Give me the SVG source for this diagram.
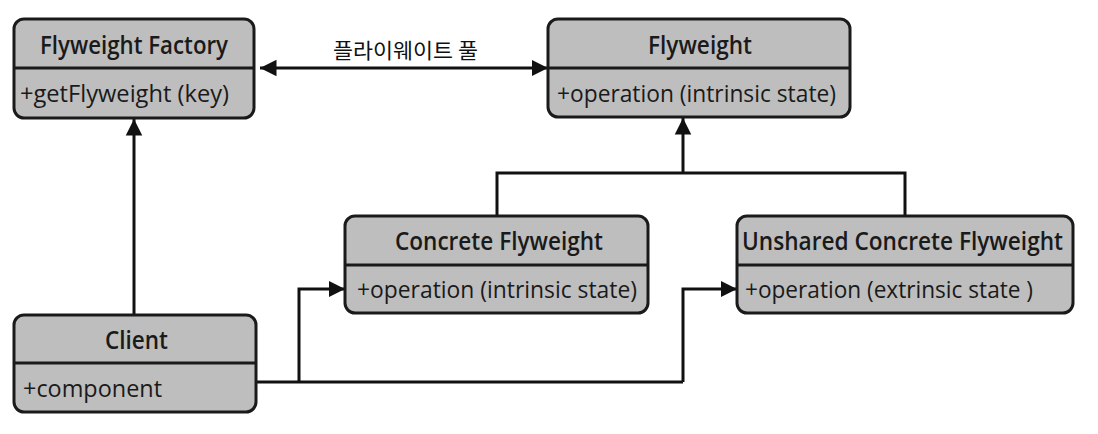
<svg xmlns="http://www.w3.org/2000/svg" width="1098" height="434" viewBox="0 0 1098 434">
<style>
.box{fill:#bebebe;stroke:#1a1a1a;stroke-width:3}
.div{stroke:#1a1a1a;stroke-width:3}
.t{font-family:"Open Sans","DejaVu Sans",sans-serif;font-size:25px;font-weight:600;fill:#1a1a1a}
.m{font-family:"Open Sans","DejaVu Sans",sans-serif;font-size:24px;fill:#1a1a1a}
.c{fill:none;stroke:#111;stroke-width:3}
.k{font-family:"Noto Sans CJK KR",sans-serif;font-size:21px;fill:#111}
</style>
<defs>
<marker id="ah" viewBox="0 0 10 10" refX="10" refY="5" markerWidth="5.5" markerHeight="6" orient="auto-start-reverse" markerUnits="strokeWidth">
<path d="M0,0 L10,5 L0,10 z" fill="#111"/>
</marker>
</defs>
<rect width="1098" height="434" fill="#fff"/>
<g id="connectors">
<line class="c" x1="260" y1="68" x2="548" y2="68" marker-start="url(#ah)" marker-end="url(#ah)"/>
<text class="k" x="333" y="58" textLength="145" lengthAdjust="spacingAndGlyphs">플라이웨이트 풀</text>
<line class="c" x1="134" y1="315" x2="134" y2="119" marker-end="url(#ah)"/>
<polyline class="c" points="497,217 497,173 905,173 905,217"/>
<line class="c" x1="683" y1="173" x2="683" y2="118" marker-end="url(#ah)"/>
<polyline class="c" points="256,382 683,382"/>
<polyline class="c" points="299,382 299,289 345,289" marker-end="url(#ah)"/>
<polyline class="c" points="683,382 683,289 737,289" marker-end="url(#ah)"/>
</g>
<g id="factory">
<rect class="box" x="14" y="19" width="240" height="99" rx="10"/>
<line class="div" x1="14" y1="68" x2="254" y2="68"/>
<text class="t" x="40" y="54" textLength="188" lengthAdjust="spacingAndGlyphs">Flyweight Factory</text>
<text class="m" x="20" y="102" textLength="209" lengthAdjust="spacingAndGlyphs">+getFlyweight (key)</text>
</g>
<g id="flyweight">
<rect class="box" x="548" y="19" width="302" height="98" rx="10"/>
<line class="div" x1="548" y1="68" x2="850" y2="68"/>
<text class="t" x="648" y="54" textLength="104" lengthAdjust="spacingAndGlyphs">Flyweight</text>
<text class="m" x="557" y="102" textLength="279" lengthAdjust="spacingAndGlyphs">+operation (intrinsic state)</text>
</g>
<g id="concrete">
<rect class="box" x="345" y="216" width="303" height="97" rx="10"/>
<line class="div" x1="345" y1="265" x2="648" y2="265"/>
<text class="t" x="395" y="250" textLength="208" lengthAdjust="spacingAndGlyphs">Concrete Flyweight</text>
<text class="m" x="357" y="298" textLength="280" lengthAdjust="spacingAndGlyphs">+operation (intrinsic state)</text>
</g>
<g id="unshared">
<rect class="box" x="737" y="216" width="336" height="97" rx="10"/>
<line class="div" x1="737" y1="265" x2="1073" y2="265"/>
<text class="t" x="742" y="250" textLength="321" lengthAdjust="spacingAndGlyphs">Unshared Concrete Flyweight</text>
<text class="m" x="745" y="298" textLength="288" lengthAdjust="spacingAndGlyphs">+operation (extrinsic state )</text>
</g>
<g id="client">
<rect class="box" x="14" y="315" width="242" height="97" rx="10"/>
<line class="div" x1="14" y1="363" x2="256" y2="363"/>
<text class="t" x="105" y="349" textLength="63" lengthAdjust="spacingAndGlyphs">Client</text>
<text class="m" x="23" y="397" textLength="139" lengthAdjust="spacingAndGlyphs">+component</text>
</g>
</svg>
